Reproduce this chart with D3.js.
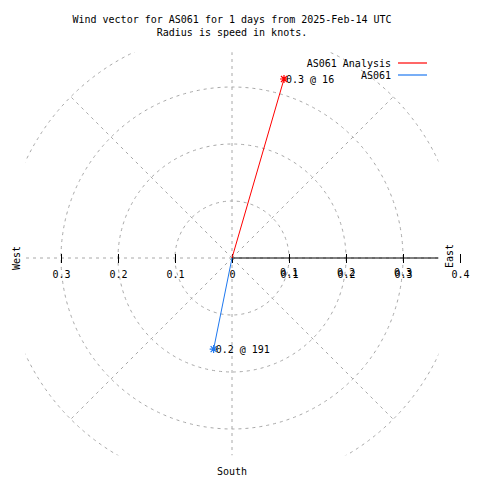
<!DOCTYPE html>
<html>
<head>
<meta charset="utf-8">
<script src="https://cdn.jsdelivr.net/npm/d3@7"></script>
<style>
  html, body { margin: 0; padding: 0; background: #fff; }
  svg { display: block; }
  text { font-family: "DejaVu Sans Mono", monospace; font-size: 10px; fill: #000; }
</style>
</head>
<body>
<svg id="chart" width="480" height="480"></svg>
<script>
// ---- data ----
const titleLines = ["Wind vector for AS061 for 1 days from 2025-Feb-14 UTC", "Radius is speed in knots."];
const seriesNames = ["AS061 Analysis", "AS061"];
const seriesColors = ["#ff0000", "#1e78f0"];
const speeds = [0.327, 0.163];          // knots
const directions = [16.2, 191.4];       // degrees, bearing
const ringValues = [0.1, 0.2, 0.3, 0.4];
const spokeAngles = [0, 45, 90, 135, 180, 225, 270, 315];
const eastTicks = [0, 0.1, 0.2, 0.3, 0.4];
const westTicks = [0.1, 0.2, 0.3];
const compassLabels = ["West", "East", "South"];
const clipExtent = { x0: -0.362, x1: 0.362, y0: -0.346, y1: 0.361 };

// ---- layout ----
const svg = d3.select("#chart");
const cx = 232, cy = 258, R = 228, maxV = 0.4;
const r = d3.scaleLinear().domain([0, maxV]).range([0, R]);
const xs = d3.scaleLinear().domain([-maxV, maxV]).range([cx - R, cx + R]);
const ys = d3.scaleLinear().domain([-maxV, maxV]).range([cy + R, cy - R]);
const gridColor = "#a8a8a8";
const fmt = d3.format(".1f");

svg.append("defs").append("clipPath").attr("id", "plotclip")
  .append("rect")
  .attr("x", xs(clipExtent.x0)).attr("y", ys(clipExtent.y1))
  .attr("width", xs(clipExtent.x1) - xs(clipExtent.x0))
  .attr("height", ys(clipExtent.y0) - ys(clipExtent.y1));

// title
svg.append("g").selectAll("text").data(titleLines).join("text")
  .attr("x", 232).attr("y", (d, i) => 23 + i * 13)
  .attr("text-anchor", "middle").text(d => d);

const plot = svg.append("g").attr("clip-path", "url(#plotclip)");

// rings
plot.append("g").selectAll("circle").data(ringValues).join("circle")
  .attr("cx", cx).attr("cy", cy).attr("r", d => r(d))
  .attr("fill", "none").attr("stroke", gridColor).attr("stroke-width", 1)
  .attr("stroke-dasharray", "3,4");

// spokes
plot.append("g").selectAll("line").data(spokeAngles).join("line")
  .attr("x1", cx).attr("y1", cy)
  .attr("x2", d => cx + d3.pointRadial(d * Math.PI / 180, r(maxV))[0])
  .attr("y2", d => cy + d3.pointRadial(d * Math.PI / 180, r(maxV))[1])
  .attr("stroke", gridColor).attr("stroke-width", 1)
  .attr("stroke-dasharray", "3,4");

// east solid axis line
plot.append("line")
  .attr("x1", xs(0)).attr("y1", cy).attr("x2", xs(maxV)).attr("y2", cy)
  .attr("stroke", "#000").attr("stroke-width", 1);

// east axis ticks + labels
const eastAxis = d3.axisBottom(d3.scaleLinear().domain([0, maxV]).range([xs(0), xs(maxV)]))
  .tickValues(eastTicks).tickSize(5).tickPadding(8)
  .tickFormat(d => d === 0 ? "0" : fmt(d));
const eg = svg.append("g").attr("transform", `translate(0,${cy})`).call(eastAxis);
eg.select(".domain").remove();
eg.selectAll(".tick line").attr("y1", -4).attr("stroke", "#000");
eg.selectAll(".tick text").attr("font-family", null).attr("font-size", null).attr("fill", "#000");

// ring labels along east direction (overlapping the axis labels, as in the source)
svg.append("g").selectAll("text").data(ringValues.slice(0, 3)).join("text")
  .attr("x", d => xs(d)).attr("y", cy + 18).attr("text-anchor", "middle")
  .text(d => fmt(d));

// west axis ticks + labels
const westAxis = d3.axisBottom(d3.scaleLinear().domain([0, maxV]).range([xs(0), xs(-maxV)]))
  .tickValues(westTicks).tickSize(5).tickPadding(8).tickFormat(fmt);
const wg = svg.append("g").attr("transform", `translate(0,${cy})`).call(westAxis);
wg.select(".domain").remove();
wg.selectAll(".tick line").attr("y1", -4).attr("stroke", "#000");
wg.selectAll(".tick text").attr("font-family", null).attr("font-size", null).attr("fill", "#000");

// compass labels
svg.append("text").attr("transform", `translate(20,${cy}) rotate(-90)`)
  .attr("text-anchor", "middle").text(compassLabels[0]);
svg.append("text").attr("transform", `translate(453,${cy - 2}) rotate(-90)`)
  .attr("text-anchor", "middle").text(compassLabels[1]);
svg.append("text").attr("x", cx).attr("y", 475)
  .attr("text-anchor", "middle").text(compassLabels[2]);

// vectors
const vectors = speeds.map((s, i) => {
  const p = d3.pointRadial(directions[i] * Math.PI / 180, r(s));
  return { s, dir: directions[i], x: cx + p[0], y: cy + p[1], color: seriesColors[i] };
});
const vg = svg.append("g");
vg.selectAll("line").data(vectors).join("line")
  .attr("x1", cx).attr("y1", cy).attr("x2", d => d.x).attr("y2", d => d.y)
  .attr("stroke", d => d.color).attr("stroke-width", 1);
const st = 4, sd = 3;
const starPath = `M0,${-st}V${st}M${-st},0H${st}M${-sd},${-sd}L${sd},${sd}M${-sd},${sd}L${sd},${-sd}`;
vg.selectAll("path").data(vectors).join("path")
  .attr("transform", d => `translate(${d.x},${d.y})`)
  .attr("d", starPath).attr("stroke", d => d.color).attr("stroke-width", 1.2).attr("fill", "none");
vg.selectAll("text").data(vectors).join("text")
  .attr("x", d => d.x + 2).attr("y", d => d.y + 3.5)
  .text(d => `${fmt(d.s)} @ ${Math.round(d.dir)}`);

// legend
const lg = svg.append("g").selectAll("g").data(seriesNames).join("g")
  .attr("transform", (d, i) => `translate(0,${63 + i * 12})`);
lg.append("text").attr("x", 391).attr("y", 4).attr("text-anchor", "end").text(d => d);
lg.append("line").attr("x1", 398).attr("x2", 427).attr("y1", 0).attr("y2", 0)
  .attr("stroke", (d, i) => seriesColors[i]).attr("stroke-width", 1.2);
</script>
</body>
</html>
